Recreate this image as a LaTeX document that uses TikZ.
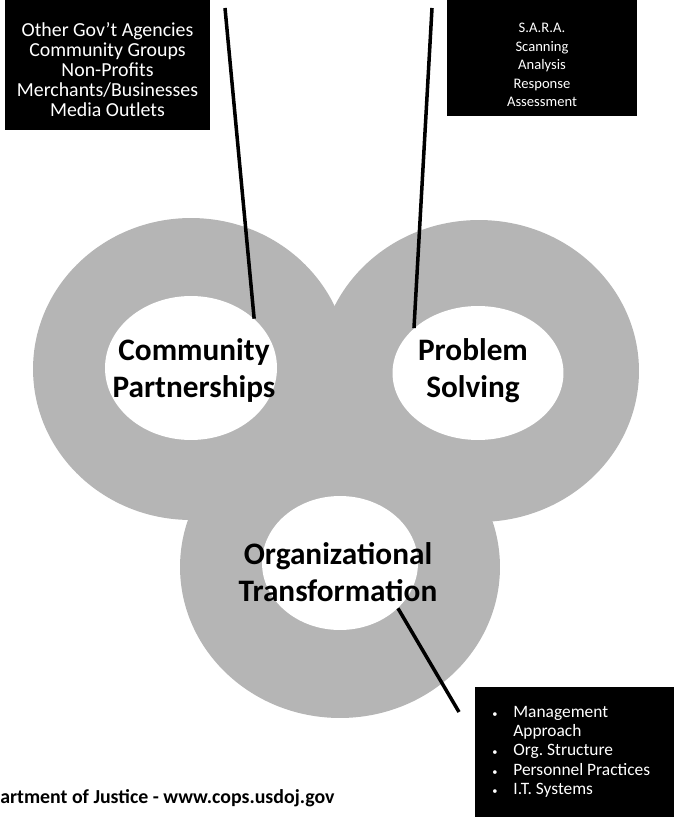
\documentclass[tikz,border=0pt]{standalone}
\usepackage{fontspec}
\setmainfont{Carlito}
\usetikzlibrary{shapes.geometric}
\begin{document}
\begin{tikzpicture}[x=0.02cm,y=-0.02cm,
  ring/.style={fill=black!29},
  hole/.style={ellipse,fill=white,inner sep=0pt,minimum width=3.44cm,minimum height=2.88cm},
  pillar/.style={font=\bfseries\fontsize{17.8}{21}\selectfont,align=center,inner sep=0pt},
  blackbox/.style={fill=black,inner sep=0pt},
  boxtext/.style={text=white,align=center,inner sep=0pt},
  link/.style={line width=2pt}]

\useasboundingbox (0,0) rectangle (674,817);

\fill[ring] (191,369) ellipse [x radius=3.16cm, y radius=3.02cm];
\fill[ring] (479,371) ellipse [x radius=3.2cm, y radius=3.02cm];
\fill[ring] (340,567) ellipse [x radius=3.2cm, y radius=3.02cm];

\node[hole] (cp) at (191,368) {};
\node[hole,minimum width=3.42cm,minimum height=2.68cm] (ps) at (478,373) {};
\node[hole,minimum width=3.12cm,minimum height=2.68cm] (ot) at (340,563) {};

\coordinate (cptop) at (225,8);
\coordinate (pstop) at (432,8);
\coordinate (otend) at (459,712);
\draw[link] (cptop) -- (cp.38);
\draw[link] (pstop) -- (ps.145);
\draw[link] (ot.-38) -- (otend);

\node[pillar] (cptext) at (194,370.5) {Community\\Partnerships};
\node[pillar] (pstext) at (473,370.5) {Problem\\Solving};
\node[pillar] (ottext) at (338,572.5) {Organizational\\Transformation};

\node[blackbox,minimum width=4.1cm,minimum height=2.6cm] (govbox) at (107.5,65) {};
\node[boxtext,font=\fontsize{11.3}{11.4}\selectfont] (govlist) at (107.5,70)
  {Other Gov't Agencies\\Community Groups\\Non-Profits\\Merchants/Businesses\\Media Outlets};

\node[blackbox,minimum width=3.8cm,minimum height=2.32cm] (sarabox) at (542,58) {};
\node[boxtext,font=\fontsize{8.3}{10.5}\selectfont] (saralist) at (542,65)
  {S.A.R.A.\\Scanning\\Analysis\\Response\\Assessment};

\node[blackbox,minimum width=3.98cm,minimum height=2.6cm] (mgmtbox) at (574.5,752) {};
\node[boxtext,anchor=west,font=\fontsize{9.9}{11}\selectfont] (mgmtlist) at (492,752)
  {\begin{tabular}{@{}l@{\hspace{9pt}}l@{}}
   \scalebox{0.6}{\textbullet} & Management\\
               & Approach\\
   \scalebox{0.6}{\textbullet} & Org.\ Structure\\
   \scalebox{0.6}{\textbullet} & Personnel Practices\\
   \scalebox{0.6}{\textbullet} & I.T. Systems
   \end{tabular}};

\node[anchor=base west,inner sep=0pt,font=\bfseries\fontsize{11.3}{13}\selectfont] (footer) at (0,803)
  {artment of Justice - www.cops.usdoj.gov};
\end{tikzpicture}
\end{document}
